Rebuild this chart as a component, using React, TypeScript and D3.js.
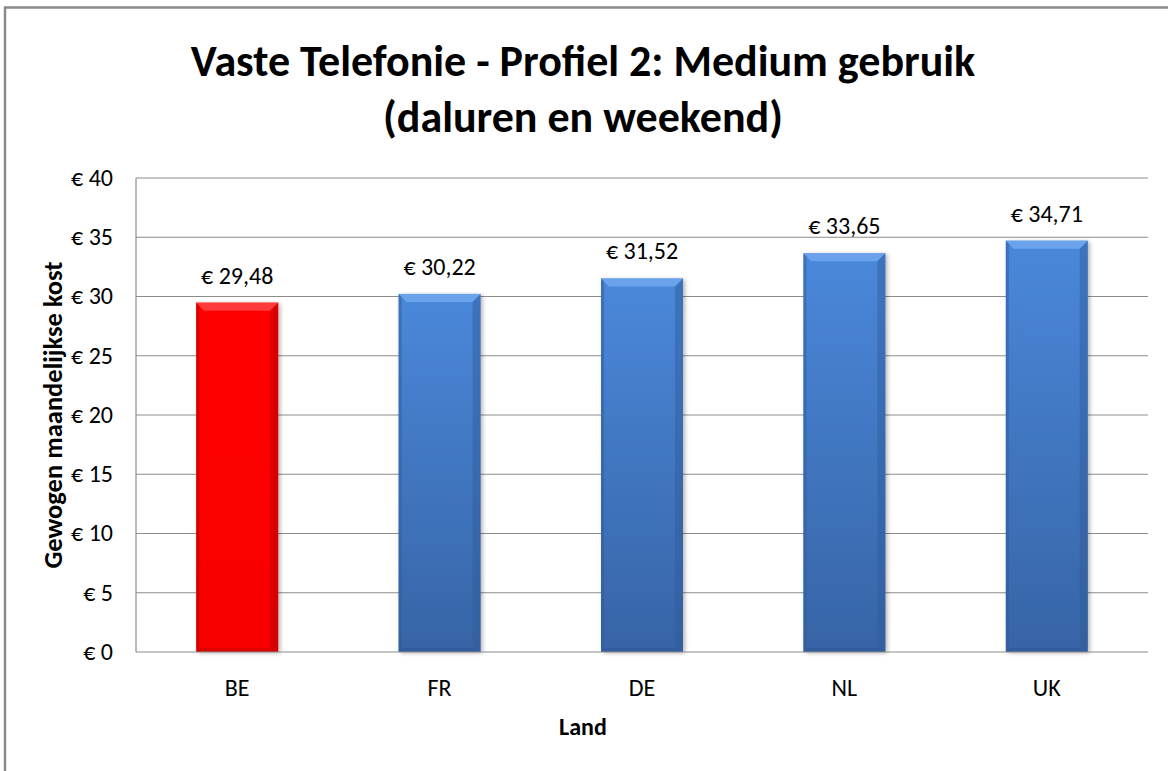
import React from 'react';
import * as d3 from 'd3';

const countries = ['BE', 'FR', 'DE', 'NL', 'UK'];
const costs = [29.48, 30.22, 31.52, 33.65, 34.71];
const yTicks = [0, 5, 10, 15, 20, 25, 30, 35, 40];
const highlight = 'BE';

const W = 1168;
const H = 771;
const margin = { left: 136, top: 178, right: 20, bottom: 119 };
const font = 'Carlito, Lato, "Open Sans", sans-serif';

const euro = (v: number, digits: number) => '€ ' + v.toFixed(digits).replace('.', ',');

export default function App() {
  const x = d3.scaleBand<string>()
    .domain(countries)
    .range([margin.left, W - margin.right])
    .paddingInner(0.595)
    .paddingOuter(0.2975);

  const y = d3.scaleLinear()
    .domain([0, 40])
    .range([H - margin.bottom, margin.top]);

  const bw = x.bandwidth();
  const bev = 8;

  return (
    <svg width={W} height={H} style={{ position: 'absolute', left: 0, top: 0, background: '#fff' }}>
      <defs>
        <linearGradient id="blueG" x1="0" y1="0" x2="0" y2="1">
          <stop offset="0" stopColor="#4a88da" />
          <stop offset="1" stopColor="#3764a6" />
        </linearGradient>
        <linearGradient id="redG" x1="0" y1="0" x2="0" y2="1">
          <stop offset="0" stopColor="#ff0505" />
          <stop offset="1" stopColor="#f80000" />
        </linearGradient>
        <filter id="shadow" x="-20%" y="-10%" width="140%" height="120%">
          <feGaussianBlur in="SourceAlpha" stdDeviation="2" />
          <feOffset dx="2" dy="1" result="b" />
          <feComponentTransfer>
            <feFuncA type="linear" slope="0.3" />
          </feComponentTransfer>
          <feMerge>
            <feMergeNode />
            <feMergeNode in="SourceGraphic" />
          </feMerge>
        </filter>
      </defs>

      {/* outer frame */}
      <rect x={5} y={7.5} width={W + 20} height={H + 20} fill="none" stroke="#8a8a8a" strokeWidth={2.5} />

      {/* title */}
      <text x={583} y={76} textAnchor="middle" fontFamily={font} fontWeight="bold" fontSize={44} fill="#000">
        Vaste Telefonie - Profiel 2: Medium gebruik
      </text>
      <text x={583} y={132} textAnchor="middle" fontFamily={font} fontWeight="bold" fontSize={44} fill="#000">
        (daluren en weekend)
      </text>

      {/* gridlines + y ticks */}
      {yTicks.map(t => (
        <g key={t}>
          {t > 0 && (
            <line x1={margin.left} x2={W - margin.right} y1={y(t)} y2={y(t)} stroke="#8c8c8c" strokeWidth={1} />
          )}
          <text x={113} y={y(t)} dy="0.33em" textAnchor="end" fontFamily={font} fontSize={24} fill="#000">
            {euro(t, 0)}
          </text>
        </g>
      ))}

      {/* bars */}
      {countries.map((c, i) => {
        const x0 = x(c)!;
        const y0 = y(costs[i]);
        const y1 = y(0);
        const red = c === highlight;
        const top = red ? '#ff4040' : '#6ea6ec';
        const side = red ? '#b00000' : '#2f5a98';
        const bottom = red ? '#c80000' : '#30589a';
        return (
          <g key={c}>
            <g filter="url(#shadow)">
              <rect x={x0} y={y0} width={bw} height={y1 - y0} fill={red ? 'url(#redG)' : 'url(#blueG)'} />
            </g>
            {/* bevel top */}
            <polygon
              points={`${x0},${y0} ${x0 + bw},${y0} ${x0 + bw - bev},${y0 + bev} ${x0 + bev},${y0 + bev}`}
              fill={top}
              opacity={0.9}
            />
            {/* bevel sides */}
            <polygon
              points={`${x0},${y0} ${x0 + 3},${y0 + 3} ${x0 + 3},${y1 - 3} ${x0},${y1}`}
              fill={side}
              opacity={0.5}
            />
            <polygon
              points={`${x0 + bw},${y0} ${x0 + bw - bev},${y0 + bev} ${x0 + bw - bev},${y1 - 4} ${x0 + bw},${y1}`}
              fill={side}
              opacity={0.45}
            />
            <polygon
              points={`${x0},${y1} ${x0 + 3},${y1 - 4} ${x0 + bw - bev},${y1 - 4} ${x0 + bw},${y1}`}
              fill={bottom}
              opacity={0.6}
            />
            <text x={x0 + bw / 2} y={y0 - 19} textAnchor="middle" fontFamily={font} fontSize={24} fill="#000">
              {euro(costs[i], 2)}
            </text>
          </g>
        );
      })}

      {/* axes */}
      <line x1={margin.left} x2={margin.left} y1={margin.top} y2={y(0)} stroke="#8c8c8c" strokeWidth={1.2} />
      <line x1={margin.left} x2={W - margin.right} y1={y(0)} y2={y(0)} stroke="#8c8c8c" strokeWidth={1.2} />

      {/* x labels */}
      {countries.map(c => (
        <text key={c} x={x(c)! + bw / 2} y={696} textAnchor="middle" fontFamily={font} fontSize={24} fill="#000">
          {c}
        </text>
      ))}

      <text x={583} y={735} textAnchor="middle" fontFamily={font} fontWeight="bold" fontSize={24} fill="#000">
        Land
      </text>
      <text
        transform={`translate(62, ${(margin.top + y(0)) / 2}) rotate(-90)`}
        textAnchor="middle"
        fontFamily={font}
        fontWeight="bold"
        fontSize={26.5}
        fill="#000"
      >
        Gewogen maandelijkse kost
      </text>
    </svg>
  );
}
